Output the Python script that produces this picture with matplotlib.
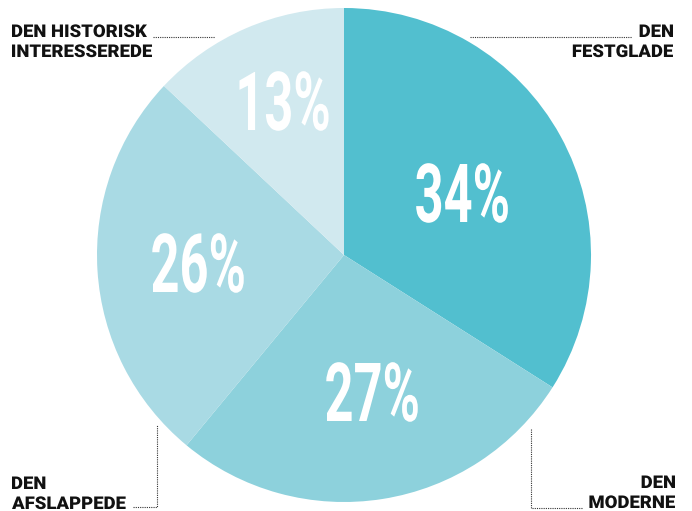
import matplotlib.pyplot as plt
from matplotlib.textpath import TextPath
from matplotlib.patches import PathPatch
from matplotlib.font_manager import FontProperties
from matplotlib.transforms import Affine2D

# data
groups = ["DEN\nFESTGLADE", "DEN\nMODERNE", "DEN\nAFSLAPPEDE", "DEN HISTORISK\nINTERESSEREDE"]
shares = [34, 27, 26, 13]
colors = ["#52BFCF", "#8DD1DC", "#A9DAE4", "#D1E9EF"]

W, H = 692, 511
fig = plt.figure(figsize=(W / 100, H / 100), dpi=100)
ax = fig.add_axes([0, 0, 1, 1])

cx, cy, r = 344, H - 255, 247
wedges, _ = ax.pie(shares, colors=colors, startangle=90, counterclock=False,
                   center=(cx, cy), radius=r, frame=True,
                   wedgeprops=dict(linewidth=0))

ax.set_xlim(0, W)
ax.set_ylim(0, H)
ax.set_aspect("equal")
ax.axis("off")

fp_pct = FontProperties(family="Roboto", weight="bold")
fp_lab = FontProperties(family="Roboto", weight="black")


def path_text(s, x, y, cap_h, xs, fp, ha="left", color="#111111"):
    # text as path: cap height cap_h px, horizontal squeeze xs, baseline at y
    cap = TextPath((0, 0), "H", size=1, prop=fp).get_extents().height
    tp = TextPath((0, 0), s, size=1, prop=fp)
    bb = tp.get_extents()
    k = cap_h / cap
    if ha == "right":
        dx = -bb.x1 * k * xs
    elif ha == "center":
        dx = -(bb.x0 + bb.x1) / 2 * k * xs
    else:
        dx = -bb.x0 * k * xs
    tr = Affine2D().scale(k * xs, k).translate(x + dx, H - y)
    ax.add_patch(PathPatch(tr.transform_path(tp), facecolor=color, lw=0))


# white percent labels (centre x, baseline y)
pct_pos = [(462, 222), (372, 421), (198, 292), (284, 130)]
for val, (px, py) in zip(shares, pct_pos):
    path_text(f"{val}%", px, py, 58, 0.62, fp_pct, ha="center", color="white")

# category labels: squeeze so "DEN HISTORISK" spans about 135 px
cap_lab = 12.5
ref = TextPath((0, 0), "DEN HISTORISK", size=1, prop=fp_lab)
cap_ref = TextPath((0, 0), "H", size=1, prop=fp_lab).get_extents().height
xs_lab = 135 / (ref.get_extents().width * cap_lab / cap_ref)

for i, (x, y, ha) in enumerate([(673, 37, "right"), (675, 488, "right"),
                                (12, 489, "left"), (12, 37, "left")]):
    for j, line in enumerate(groups[i].split("\n")):
        path_text(line, x, y + j * 20, cap_lab, xs_lab, fp_lab, ha=ha)

# dotted leader lines
dot = dict(color="#333333", lw=0.8, ls=(0, (1, 1)))
ax.plot([470, 632], [H - 37, H - 37], **dot)
ax.plot([153, 215], [H - 37, H - 37], **dot)
ax.plot([133, 157, 157], [H - 507, H - 507, H - 425], **dot)
ax.plot([582, 531, 531], [H - 508, H - 508, H - 428], **dot)

fig.savefig("out.png", dpi=100)
